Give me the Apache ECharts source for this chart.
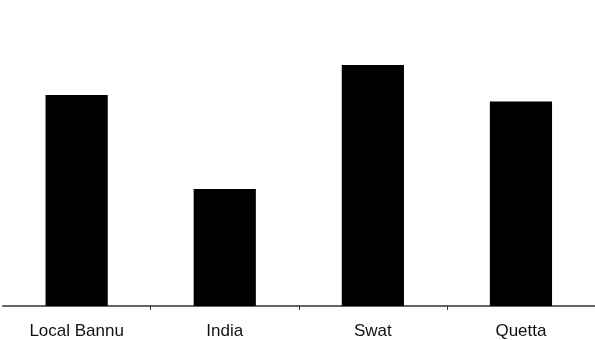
<!DOCTYPE html>
<html>
<head>
<meta charset="utf-8">
<style>
  html, body { margin: 0; padding: 0; background: #fff; }
  #chart { width: 595px; height: 340px; }
</style>
<script src="https://cdn.jsdelivr.net/npm/echarts@6/dist/echarts.min.js"></script>
</head>
<body>
<div id="chart"></div>
<script>
// Regions and their bar heights
const categories = ['Local Bannu', 'India', 'Swat', 'Quetta'];
const values = [211, 117, 241, 204.5];
const yMax = 300;

const chart = echarts.init(document.getElementById('chart'), null, { renderer: 'canvas' });
chart.setOption({
  animation: false,
  backgroundColor: '#ffffff',
  grid: { left: 2.6, right: -2.8, top: 6, bottom: 34, containLabel: false },
  xAxis: {
    type: 'category',
    data: categories,
    boundaryGap: true,
    axisLine: { show: true, lineStyle: { color: '#333333', width: 1.5 } },
    axisTick: {
      show: true,
      length: 4,
      // skip the tick on the left edge of the plot
      interval: function (index) { return index > 0; },
      lineStyle: { color: '#333333', width: 1 }
    },
    axisLabel: {
      color: '#111111',
      fontFamily: 'Liberation Sans, Arial, sans-serif',
      fontSize: 17,
      margin: 17
    }
  },
  yAxis: {
    type: 'value',
    min: 0,
    max: yMax,
    show: false,
    splitLine: { show: false }
  },
  series: [{
    type: 'bar',
    data: values,
    barWidth: '42%',
    itemStyle: { color: '#000000' }
  }]
});
</script>
</body>
</html>
